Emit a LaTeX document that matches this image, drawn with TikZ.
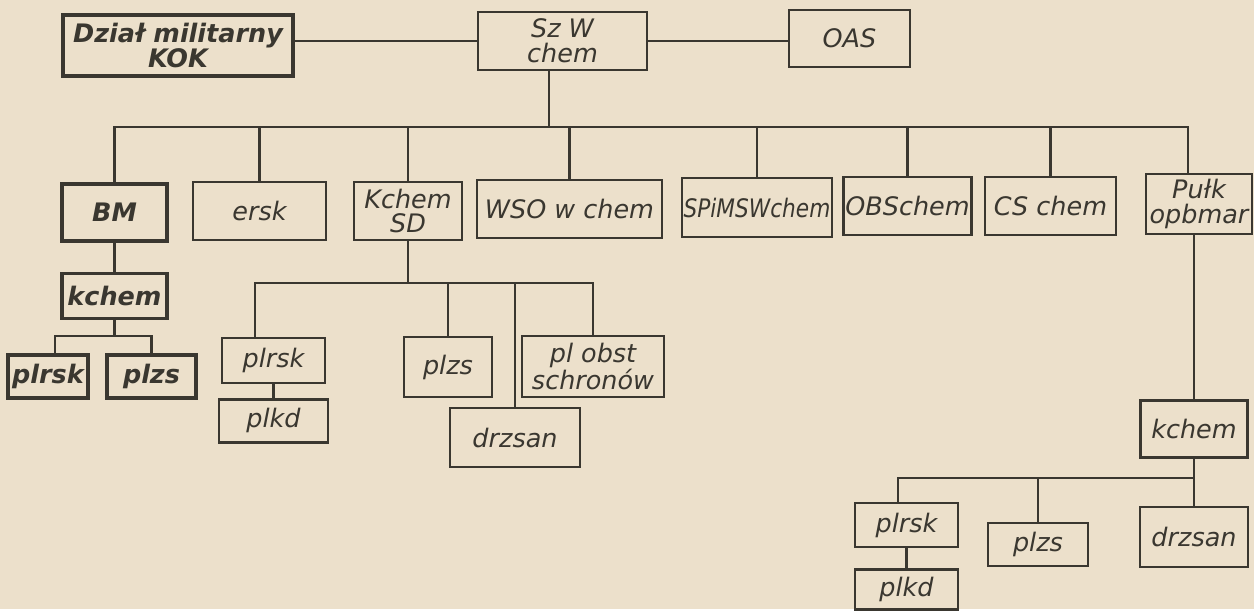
\documentclass[tikz,border=0pt]{standalone}
\usepackage{fontspec}
\usepackage{graphicx}
\setmainfont{DejaVu Sans}
\usetikzlibrary{positioning, calc}
\definecolor{cPaper}{RGB}{236,224,203}
\definecolor{cInk}{RGB}{58,55,48}
\tikzset{
    pxgrid/.style={x=0.02cm, y=-0.02cm},
    box/.style   ={rectangle, draw=cInk, line width=1.4pt, text=cInk, align=center, inner sep=1pt, font=\itshape\fontsize{14.5}{14}\selectfont},
    heavy/.style ={line width=2pt, font=\bfseries\itshape\fontsize{14.5}{14}\selectfont},
    link/.style  ={draw=cInk, line width=1.4pt, line cap=rect},
}

\begin{document}
\begin{tikzpicture}[pxgrid]
    \fill[cPaper] (0,0) rectangle (1254,609);
    % top row
    \node[box, heavy, minimum width=4.6cm, minimum height=1.22cm] (dzial) at (178,45.5) {Dział militarny\\KOK};
    \node[box, minimum width=3.38cm, minimum height=1.16cm] (szw) at (562.5,41) {Sz W\\chem};
    \node[box, minimum width=2.42cm, minimum height=1.14cm] (oas) at (849.5,38.5) {OAS};
    % second row
    \node[box, heavy, minimum width=2.1cm, minimum height=1.14cm] (bm) at (114.5,212.5) {BM};
    \node[box, minimum width=2.66cm, minimum height=1.16cm] (ersk) at (259.5,211) {ersk};
    \node[box, minimum width=2.16cm, minimum height=1.16cm] (kchsd) at (408,211) {Kchem\\SD};
    \node[box, minimum width=3.7cm, minimum height=1.16cm] (wso) at (569.5,209) {WSO w chem};
    \node[box, minimum width=3cm, minimum height=1.18cm] (spims) at (757,207.5) {\scalebox{0.85}[1]{SPiMSWchem}};
    \node[box, minimum width=2.42cm, minimum height=1.16cm] (obs) at (907.5,206) {OBSchem};
    \node[box, minimum width=2.62cm, minimum height=1.16cm] (cs) at (1050.5,206) {CS chem};
    \node[box, minimum width=2.12cm, minimum height=1.2cm] (pulk) at (1199,204) {Pułk\\opbmar};
    % under BM
    \node[box, heavy, minimum width=2.1cm, minimum height=0.9cm, below=0.58cm of bm] (kchl) {kchem};
    \node[box, heavy, minimum width=1.6cm, minimum height=0.86cm] (plrskl) at (48,376.5) {plrsk};
    \node[box, heavy, minimum width=1.78cm, minimum height=0.86cm] (plzsl) at (151.5,376.5) {plzs};
    % under Kchem SD
    \node[box, minimum width=2.06cm, minimum height=0.9cm] (plrskm) at (273.5,360.5) {plrsk};
    \node[box, minimum width=2.18cm, minimum height=0.86cm, below=0.28cm of plrskm] (plkdm) {plkd};
    \node[box, minimum width=1.76cm, minimum height=1.2cm] (plzsm) at (448,367) {plzs};
    \node[box, minimum width=2.6cm, minimum height=1.18cm] (drzm) at (515,437.5) {drzsan};
    \node[box, minimum width=2.84cm, minimum height=1.22cm] (plobst) at (593,366.5) {pl obst\\schronów};
    % under Pulk
    \node[box, minimum width=2.14cm, minimum height=1.14cm] (kchr) at (1194,429) {kchem};
    \node[box, minimum width=2.06cm, minimum height=0.88cm] (plrskr) at (906.5,525) {plrsk};
    \node[box, minimum width=2.06cm, minimum height=0.8cm, below=0.4cm of plrskr] (plkdr) {plkd};
    \node[box, minimum width=2cm, minimum height=0.86cm] (plzsr) at (1038,544.5) {plzs};
    \node[box, minimum width=2.16cm, minimum height=1.2cm] (drzr) at (1194,537) {drzsan};

    \coordinate (topbus) at (549,127);
    \coordinate (pulkin) at (1188,127);
    \coordinate (lbus) at (55,336);
    \coordinate (mbus) at (255,283);
    \coordinate (rbus) at (898,478);

    \begin{scope}[link]
        \draw (dzial.east |- szw.west) -- (szw.west);
        \draw (szw.east) -- (oas.west |- szw.east);
        \draw (szw.south -| topbus) -- (topbus);
        \draw (bm.north |- topbus) -- (pulkin) -- (pulk.north -| pulkin);
        \foreach \n in {bm,ersk,kchsd,wso,spims,obs,cs}
            \draw (\n.north) -- (\n.north |- topbus);
        % BM branch
        \draw (bm) -- (kchl);
        \draw (kchl.south) -- (kchl.south |- lbus);
        \draw (lbus) -- (plrskl.north -| lbus);
        \draw (lbus) -- (plzsl.north |- lbus) -- (plzsl.north);
        % Kchem SD branch
        \draw (kchsd.south) -- (kchsd.south |- mbus);
        \draw (mbus) -- (plrskm.north -| mbus);
        \draw (mbus) -- (plobst.north |- mbus) -- (plobst.north);
        \foreach \n in {plzsm,drzm}
            \draw (\n.north) -- (\n.north |- mbus);
        \draw (plrskm.south) -- (plkdm.north -| plrskm.south);
        % Pulk branch
        \draw (pulk.south -| kchr.north) -- (kchr.north);
        \draw (kchr.south) -- (kchr.south |- rbus);
        \draw (rbus) -- (plrskr.north -| rbus);
        \draw (rbus) -- (drzr.north |- rbus) -- (drzr.north);
        \draw (plzsr.north) -- (plzsr.north |- rbus);
        \draw (plrskr) -- (plkdr);
    \end{scope}
\end{tikzpicture}
\end{document}
